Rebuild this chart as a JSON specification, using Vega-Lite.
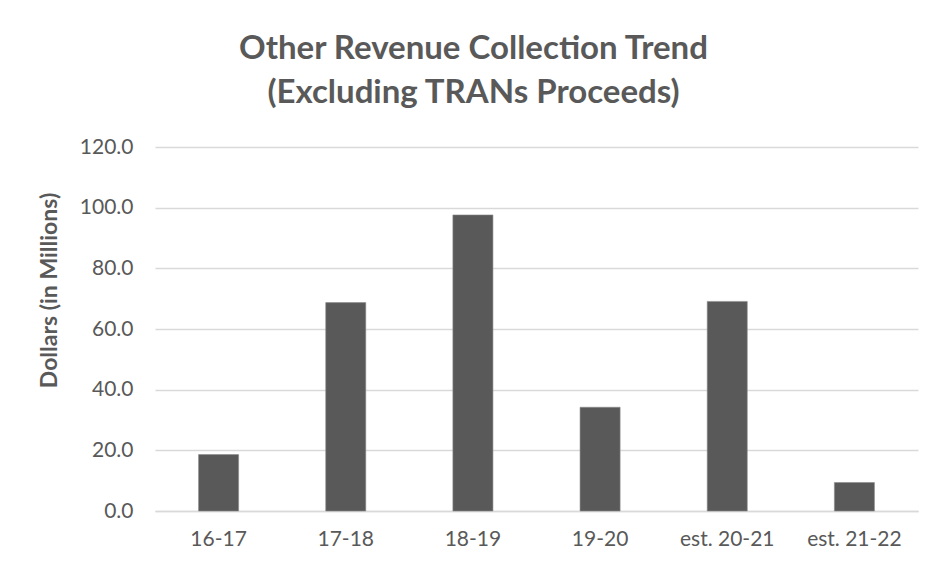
{
  "$schema": "https://vega.github.io/schema/vega-lite/v6.json",
  "autosize": {"type": "none"},
  "width": 763,
  "height": 364,
  "padding": {"left": 155, "top": 147, "right": 28, "bottom": 58},
  "background": "white",
  "title": {
    "text": ["Other Revenue Collection Trend", "(Excluding TRANs Proceeds)"],
    "anchor": "middle",
    "frame": "group",
    "dx": -63,
    "offset": 26,
    "font": "Lato",
    "fontSize": 33,
    "fontWeight": "bold",
    "color": "#595959",
    "lineHeight": 44
  },
  "data": {
    "values": [
      {"year": "16-17", "value": 18.6},
      {"year": "17-18", "value": 68.7},
      {"year": "18-19", "value": 97.6},
      {"year": "19-20", "value": 34.2},
      {"year": "est. 20-21", "value": 69.1},
      {"year": "est. 21-22", "value": 9.4}
    ]
  },
  "mark": {"type": "bar", "color": "#595959", "stroke": "#8c8c8c", "strokeWidth": 0.6},
  "encoding": {
    "x": {
      "field": "year",
      "type": "nominal",
      "sort": null,
      "scale": {"paddingInner": 0.685, "paddingOuter": 0.3425},
      "axis": {
        "title": null,
        "labelAngle": 0,
        "labelFont": "Lato",
        "labelFontSize": 21,
        "labelColor": "#595959",
        "labelPadding": 17,
        "ticks": false,
        "domain": true,
        "domainColor": "#d9d9d9",
        "domainWidth": 1.5
      }
    },
    "y": {
      "field": "value",
      "type": "quantitative",
      "scale": {"domain": [0, 120], "nice": false},
      "axis": {
        "title": "Dollars (in Millions)",
        "values": [0, 20, 40, 60, 80, 100, 120],
        "format": ".1f",
        "labelFont": "Lato",
        "labelFontSize": 21,
        "labelColor": "#595959",
        "labelPadding": 22,
        "ticks": false,
        "domain": false,
        "grid": true,
        "gridColor": "#d9d9d9",
        "gridWidth": 1.5,
        "titleFont": "Lato",
        "titleFontSize": 23,
        "titleFontWeight": "bold",
        "titleColor": "#595959",
        "titlePadding": 18,
        "titleY": 143
      }
    }
  },
  "config": {"view": {"stroke": null}}
}
